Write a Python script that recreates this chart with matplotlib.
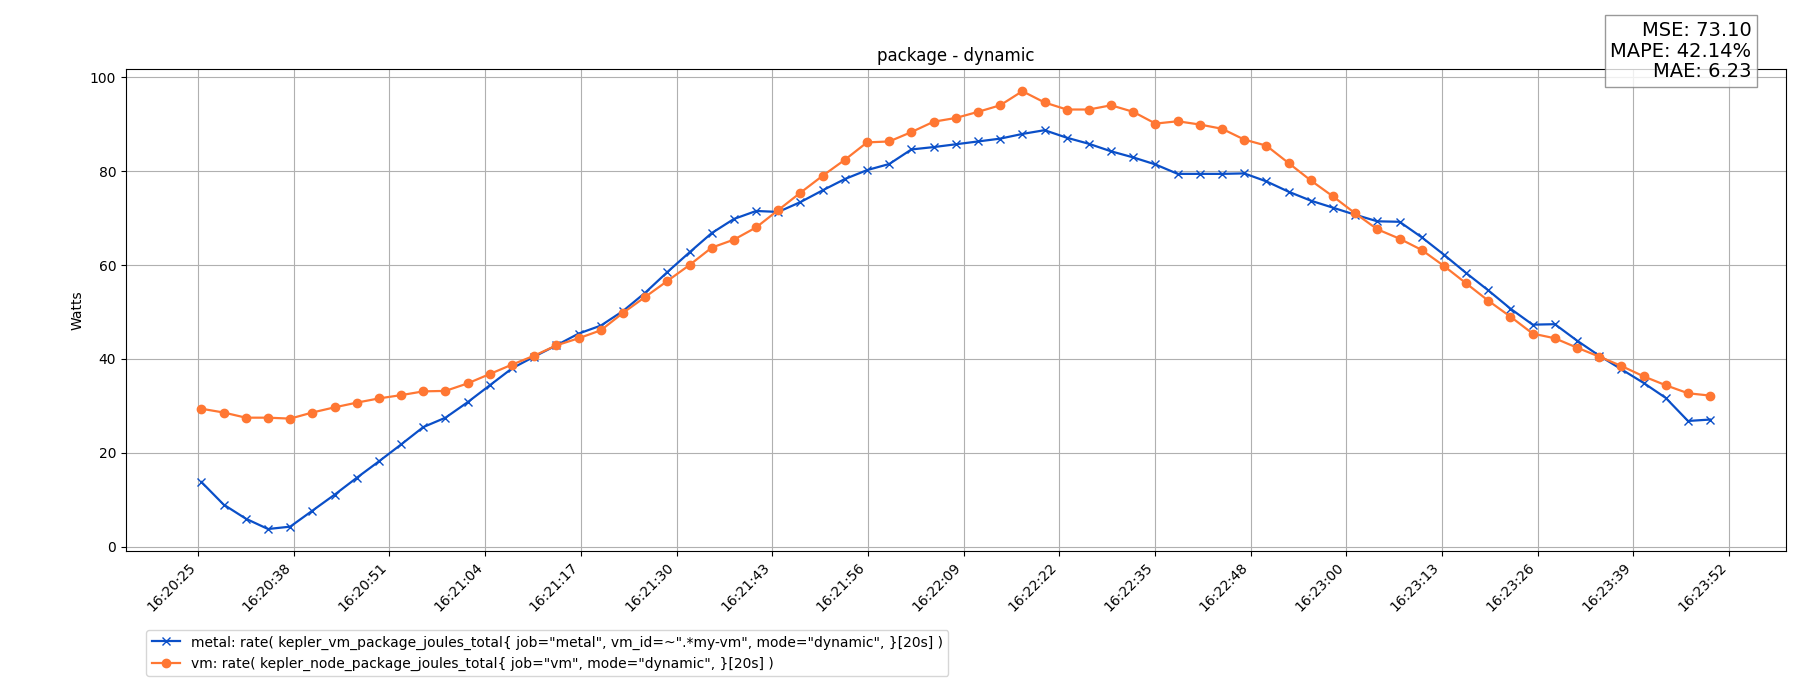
import matplotlib
matplotlib.use("Agg")
import matplotlib.pyplot as plt
import matplotlib.dates as mdates
import numpy as np
import pandas as pd

# samples every 3 s
start = pd.Timestamp("2024-01-01 16:20:26.17")
step_s = 3

metal = [13.8, 9.0, 6.0, 3.8, 4.3, 7.7, 11.1, 14.7, 18.2, 21.8,
         25.5, 27.5, 30.8, 34.4, 38.0, 40.5, 42.9, 45.4, 47.1, 50.2,
         54.1, 58.5, 62.7, 66.8, 69.8, 71.5, 71.3, 73.4, 75.9, 78.3,
         80.2, 81.5, 84.6, 85.1, 85.7, 86.3, 86.9, 87.9, 88.7, 87.1,
         85.8, 84.2, 82.9, 81.4, 79.4, 79.4, 79.4, 79.5, 77.8, 75.6,
         73.7, 72.2, 70.7, 69.3, 69.2, 65.9, 62.2, 58.3, 54.6, 50.7,
         47.3, 47.4, 43.9, 40.7, 37.8, 34.9, 31.7, 26.8, 27.1]

vm = [29.4, 28.6, 27.5, 27.5, 27.3, 28.6, 29.7, 30.7, 31.6, 32.3,
      33.1, 33.2, 34.8, 36.8, 38.8, 40.7, 42.9, 44.4, 46.1, 49.8,
      53.2, 56.6, 60.0, 63.7, 65.4, 68.0, 71.7, 75.4, 79.0, 82.4,
      86.1, 86.3, 88.3, 90.5, 91.3, 92.6, 94.0, 97.0, 94.6, 93.1,
      93.1, 94.0, 92.6, 90.1, 90.6, 89.9, 89.0, 86.7, 85.4, 81.7,
      78.0, 74.6, 71.0, 67.6, 65.6, 63.2, 59.8, 56.1, 52.4, 49.0,
      45.4, 44.4, 42.4, 40.5, 38.5, 36.3, 34.4, 32.7, 32.2]

labels = ['metal: rate( kepler_vm_package_joules_total{ job="metal", vm_id=~".*my-vm", mode="dynamic", }[20s] )',
          'vm: rate( kepler_node_package_joules_total{ job="vm", mode="dynamic", }[20s] )']
stats = "MSE: 73.10\nMAPE: 42.14%\nMAE: 6.23"

# tick range (17 evenly spaced ticks)
tick_start = pd.Timestamp("2024-01-01 16:20:25.72")
tick_end = pd.Timestamp("2024-01-01 16:23:52.72")

times = [start + pd.Timedelta(seconds=i * step_s) for i in range(len(metal))]

fig = plt.figure(figsize=(18, 7), dpi=100)
ax = fig.add_axes([0.07, 0.213, 0.922, 0.688])

ax.plot(times, metal, color='#0a4fc8', marker='x', linewidth=1.6, label=labels[0])
ax.plot(times, vm, color='#ff7733', marker='o', linewidth=1.6, label=labels[1])

ax.set_title('package - dynamic')
ax.set_ylabel('Watts')
ax.grid(True)

t0 = mdates.date2num(tick_start)
t1 = mdates.date2num(tick_end)
ax.set_xticks(np.linspace(t0, t1, 17))
ax.xaxis.set_major_formatter(mdates.DateFormatter('%H:%M:%S'))
plt.setp(ax.get_xticklabels(), rotation=45, ha='right')

fig.legend(loc='upper left', bbox_to_anchor=(0.0775, 0.1102))

fig.text(0.9731, 0.9703, stats, ha='right', va='top', fontsize=14, linespacing=1.12,
         bbox=dict(boxstyle='square,pad=0.3', facecolor='white', edgecolor='gray', alpha=0.8))

plt.savefig('out.png')
